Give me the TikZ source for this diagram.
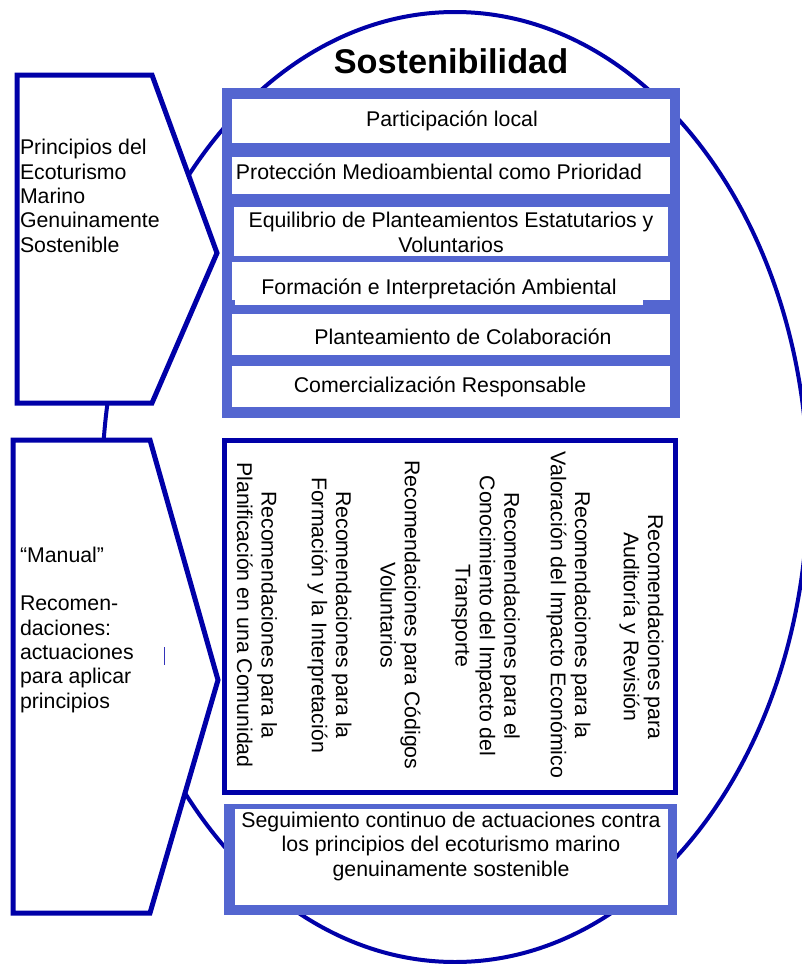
\documentclass[tikz,border=0pt]{standalone}
\usepackage{fontspec}
\setmainfont{Liberation Sans}
\definecolor{navy}{RGB}{0,0,168}
\definecolor{frameblue}{RGB}{84,102,208}
\begin{document}
\begin{tikzpicture}[x=1pt,y=-1pt,
  every node/.style={inner sep=0pt, outer sep=0pt},
  body/.style={font=\fontsize{21.3pt}{24.3pt}\selectfont},
  ringline/.style={draw=navy, line width=4pt},
  tabshape/.style={draw=navy, line width=5pt, fill=white, line join=miter},
  rectext/.style={body, rotate=-90, align=center},
  listtext/.style={body, anchor=base}]

\useasboundingbox (0,0) rectangle (802,964);
\fill[white] (0,0) rectangle (802,964);

% outer ring of sustainability
\draw[ringline] (455,487) ellipse [x radius=353, y radius=475];

% left pointing tabs
\draw[tabshape] (17,75) -- (152,75) -- (217,253) -- (152,403) -- (17,403) -- cycle;
\draw[tabshape] (13,440) -- (150,440) -- (218,680) -- (150,913) -- (13,913) -- cycle;
\draw[navy!80, line width=1pt] (164,647) -- (164,665);

% principles panel
\fill[frameblue] (222,88) rectangle (680,418);
\fill[white] (232,99) rectangle (670,143);
\fill[white] (232,157) rectangle (670,194);
\fill[white] (234,207) rectangle (668,256);
\fill[white] (232,262) rectangle (670,300);
\fill[white] (235,262) rectangle (643,305);
\fill[white] (232,314) rectangle (670,355);
\fill[white] (232,366) rectangle (670,407);

% recommendations panel
\draw[navy, line width=5pt, fill=white] (224,440) rectangle (675,792);

% monitoring panel
\fill[frameblue] (224,804) rectangle (677,915);
\fill[white] (235,809) rectangle (668,905);

% title
\node[font=\fontsize{34.3pt}{40pt}\bfseries\selectfont, anchor=base] (title) at (451,73) {Sostenibilidad};

% principles
\node[listtext] (p1) at (452,126) {Participación local};
\node[listtext] (p2) at (439,179) {Protección Medioambiental como Prioridad};
\node[listtext, align=center] (p3) at (451,252) {Equilibrio de Planteamientos Estatutarios y\\Voluntarios};
\node[listtext] (p4) at (439,294) {Formación e Interpretación Ambiental};
\node[listtext] (p5) at (463,344) {Planteamiento de Colaboración};
\node[listtext] (p6) at (440,392) {Comercialización Responsable};

% tab labels (base anchor sits on the last line)
\node[body, anchor=base west, align=left] (tabtop) at (20,252)
  {Principios del\\Ecoturismo\\Marino\\Genuinamente\\Sostenible};
\node[body, anchor=base west, align=left] (tablow) at (20,708)
  {“Manual”\\[24.3pt]Recomen-\\daciones:\\actuaciones\\para aplicar\\principios};

% recommendations, set vertically
\node[rectext] (r1) at (257,615) {Recomendaciones para la\\Planificación en una Comunidad};
\node[rectext] (r2) at (329.5,615) {Recomendaciones para la\\Formación y la Interpretación};
\node[rectext] (r3) at (400.5,615) {Recomendaciones para Códigos\\Voluntarios};
\node[rectext] (r4) at (485.5,616) {Recomendaciones para el\\Conocimiento del Impacto del\\Transporte};
\node[rectext] (r5) at (568.5,615) {Recomendaciones para la\\Valoración del Impacto Económico};
\node[rectext] (r6) at (641.5,627) {Recomendaciones para\\Auditoría y Revisión};

% monitoring
\node[listtext, align=center] (mon) at (451,876)
  {Seguimiento continuo de actuaciones contra\\los principios del ecoturismo marino\\genuinamente sostenible};
\end{tikzpicture}
\end{document}
